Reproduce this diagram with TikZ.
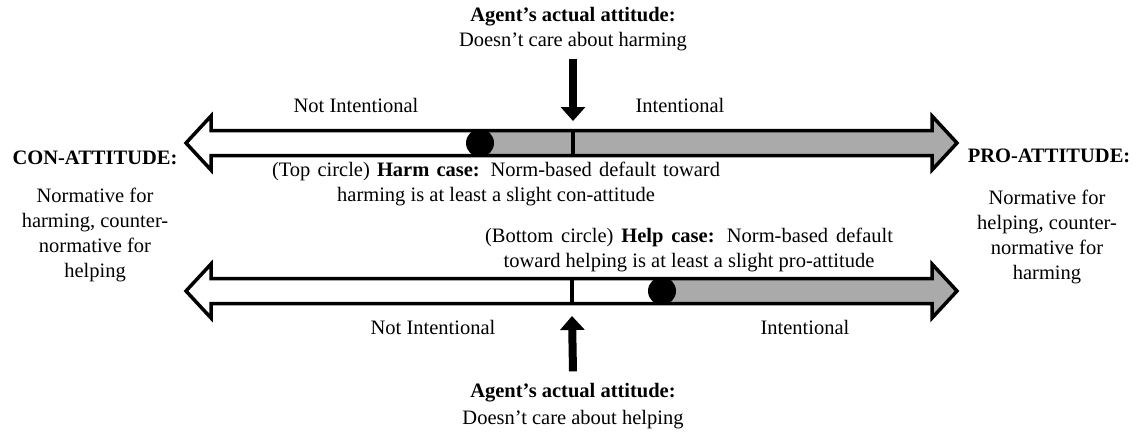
\documentclass[tikz,border=0pt]{standalone}
\usepackage{fontspec}
\setmainfont{Liberation Serif}
\usetikzlibrary{arrows.meta}
\definecolor{bargray}{RGB}{170,170,170}
\newcommand\mybarpath[1]{(186,#1) -- (211,{#1-27}) -- (211,{#1-12.5}) -- (932,{#1-12.5}) -- (932,{#1-27}) -- (957,#1) -- (932,{#1+27}) -- (932,{#1+12.5}) -- (211,{#1+12.5}) -- (211,{#1+27}) -- cycle}
\newcommand\mybar[3]{% #1 centre y, #2 circle x, #3 divider x
  \fill[white] \mybarpath{#1};
  \begin{scope}
    \clip (#2,{#1-40}) rectangle (1000,{#1+40});
    \fill[bargray] \mybarpath{#1};
  \end{scope}
  \draw[barline] (#3,{#1-12.5}) -- (#3,{#1+12.5});
  \draw[barline] \mybarpath{#1};
  \fill (#2,#1) circle (14pt);
}
\begin{document}
\begin{tikzpicture}[x=1pt,y=-1pt,
  txt/.style={inner sep=0pt, font=\fontsize{20.5}{25}\selectfont, align=center},
  boldtxt/.style={inner sep=0pt, font=\fontsize{20.5}{25}\selectfont\bfseries, align=center},
  barline/.style={line width=3.5pt, line join=miter},
  blockarrow/.style={line width=8pt, -{Triangle[width=24pt,length=14pt]}}
]
\useasboundingbox (0,0) rectangle (1137,436);

% bars
\mybar{143}{480}{573}
\mybar{291}{662}{572}

% top titles
\node[boldtxt] (topTitle) at (573,17) {Agent's actual attitude:};
\node[txt] (topSub) at (573,42) {Doesn't care about harming};
\coordinate (topTip) at (573,121);
\draw[blockarrow] ([yshift=-7pt]topSub.south) -- (topTip);

% bottom titles
\node[boldtxt] (botTitle) at (573,393) {Agent's actual attitude:};
\node[txt] (botSub) at (573,420) {Doesn't care about helping};
\coordinate (botTip) at (572,316);
\draw[blockarrow] ([yshift=12pt]botTitle.north) -- (botTip);

% bar labels
\node[txt] (topNI) at (356,105) {Not Intentional};
\node[txt] (topI) at (680,105) {Intentional};
\node[txt] (botNI) at (433,327) {Not Intentional};
\node[txt] (botI) at (805,327) {Intentional};

% case texts
\node[txt] (harmText) at (496,184) {\makebox[448pt][s]{(Top circle) \textbf{Harm case:} Norm-based default toward}\\harming is at least a slight con-attitude};
\node[txt] (helpText) at (689,250) {\makebox[408pt][s]{(Bottom circle) \textbf{Help case:} Norm-based default}\\toward helping is at least a slight pro-attitude};

% side texts
\node[boldtxt] (conHead) at (95,158) {CON-ATTITUDE:};
\node[txt] (conBody) at (95,235) {Normative for\\harming, counter-\\normative for\\helping};
\node[boldtxt] (proHead) at (1049,156) {PRO-ATTITUDE:};
\node[txt] (proBody) at (1047,237) {Normative for\\helping, counter-\\normative for\\harming};
\end{tikzpicture}
\end{document}
